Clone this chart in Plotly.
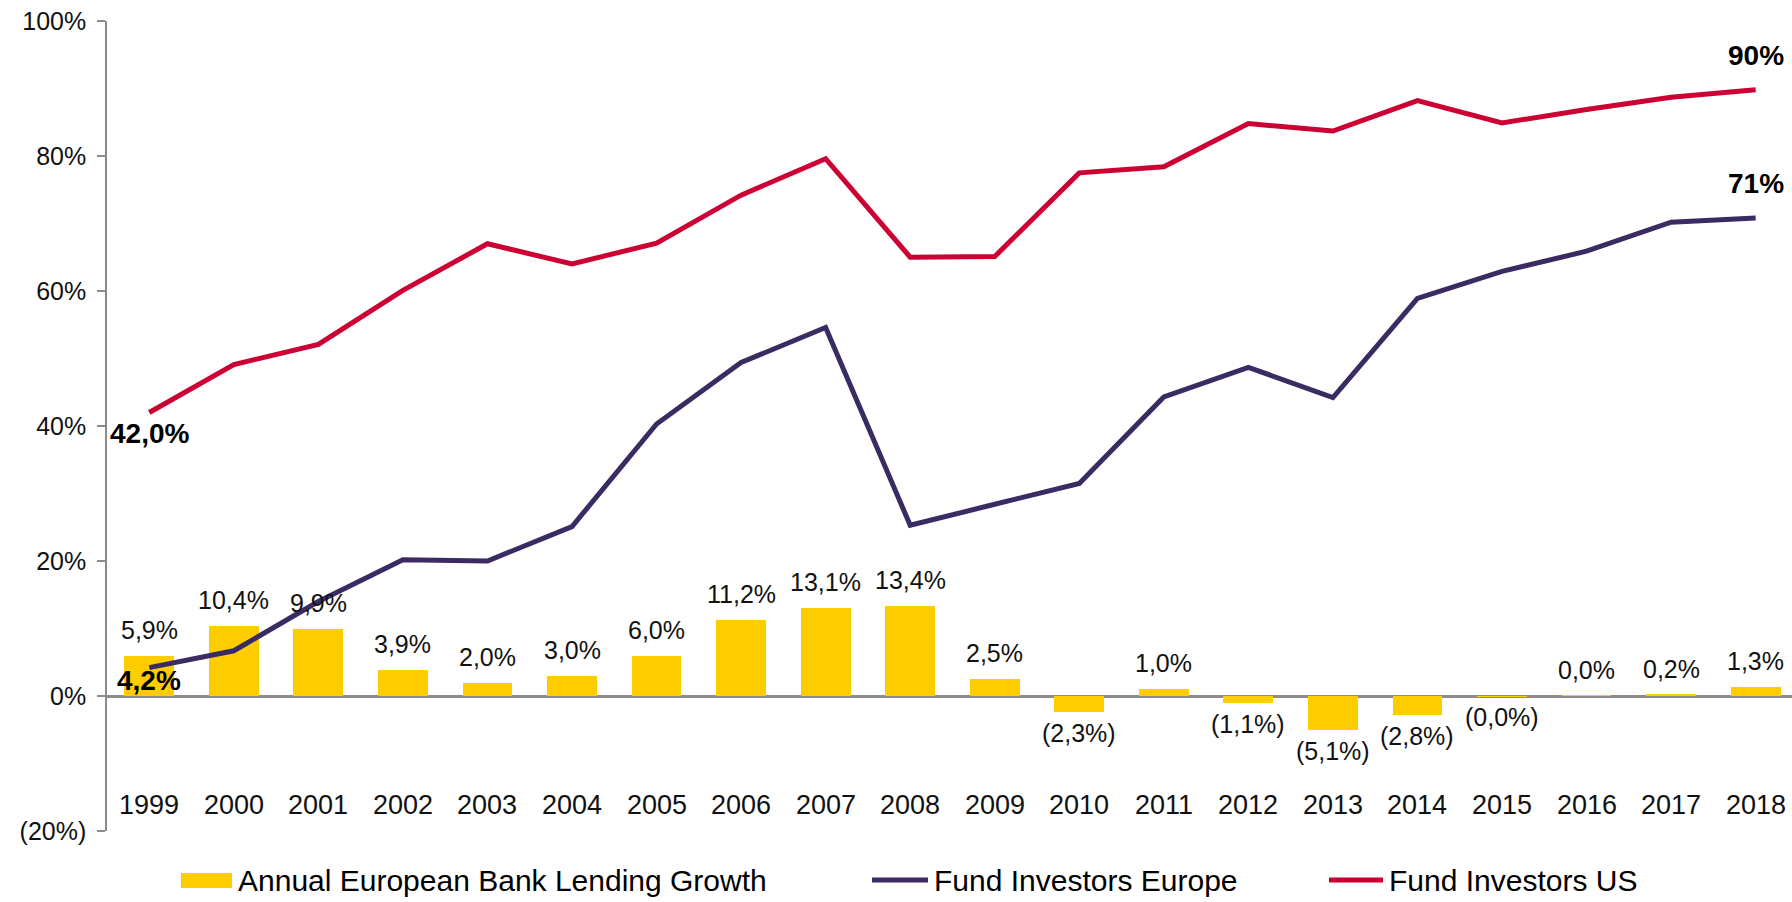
import plotly.graph_objects as go

years = list(range(1999, 2019))
lending_growth = [5.9, 10.4, 9.9, 3.9, 2.0, 3.0, 6.0, 11.2, 13.1, 13.4,
                  2.5, -2.3, 1.0, -1.1, -5.1, -2.8, -0.02, 0.02, 0.2, 1.3]
fund_europe = [4.2, 6.7, 14.0, 20.2, 20.0, 25.1, 40.3, 49.4, 54.6, 25.3,
               28.4, 31.5, 44.3, 48.7, 44.2, 58.9, 62.9, 65.9, 70.2, 70.8]
fund_us = [42.0, 49.1, 52.1, 60.1, 67.0, 64.0, 67.1, 74.2, 79.6, 65.0,
           65.1, 77.5, 78.4, 84.8, 83.7, 88.2, 84.9, 86.9, 88.7, 89.8]

y_ticks = [-20, 0, 20, 40, 60, 80, 100]
y_tick_labels = ["(20%)", "0%", "20%", "40%", "60%", "80%", "100%"]
year_labels = [str(y) for y in years]
series_names = ["Annual European Bank Lending Growth",
                "Fund Investors Europe", "Fund Investors US"]

# end-point call-outs: (series, index, text, vertical shift in px)
callouts = [
    (fund_us, 0, "42,0%", -21),
    (fund_europe, 0, "4,2%", -13),
    (fund_us, -1, "90%", 34),
    (fund_europe, -1, "71%", 35),
]

YELLOW = "#FFCC00"
NAVY = "#3A2B63"
RED = "#CC0033"
GREY = "#8C8C8C"
FONT = "Liberation Sans, Arial, sans-serif"

# plot box in page pixels, used to place the hand-made legend
PL, PR, PT, PB = 107, 1792, 21, 831


def px_x(p):
    return (p - PL) / (PR - PL)


def px_y(p):
    return (PB - p) / (PB - PT)


def pct_label(v):
    s = f"{abs(v):.1f}".replace(".", ",") + "%"
    return f"({s})" if v < 0 else s


fig = go.Figure()
fig.add_trace(go.Bar(
    x=years, y=lending_growth, name=series_names[0],
    marker=dict(color=YELLOW, line=dict(width=0)), width=0.59,
))
fig.add_trace(go.Scatter(
    x=years, y=fund_europe, name=series_names[1], mode="lines",
    line=dict(color=NAVY, width=5),
))
fig.add_trace(go.Scatter(
    x=years, y=fund_us, name=series_names[2], mode="lines",
    line=dict(color=RED, width=5),
))

annotations = []
for yr, v in zip(years, lending_growth):
    annotations.append(dict(
        x=yr, y=v, text=pct_label(v), showarrow=False, yanchor="middle",
        yshift=26 if v >= 0 else -21,
        font=dict(family=FONT, size=25, color="#111111"),
    ))
for yr, lab in zip(years, year_labels):
    annotations.append(dict(
        x=yr, y=-16.1, text=lab, showarrow=False, yanchor="middle",
        font=dict(family=FONT, size=27, color="#111111"),
    ))
for series, idx, txt, shift in callouts:
    annotations.append(dict(
        x=years[idx], y=series[idx], text=f"<b>{txt}</b>", showarrow=False,
        yanchor="middle", yshift=shift,
        font=dict(family=FONT, size=28, color="#000000"),
    ))

# legend drawn by hand so the swatches keep their wide shapes
legend_y = 880
shapes = [
    dict(type="rect", xref="paper", yref="paper",
         x0=px_x(181), x1=px_x(232), y0=px_y(legend_y + 8), y1=px_y(legend_y - 7),
         fillcolor=YELLOW, line=dict(width=0)),
    dict(type="line", xref="paper", yref="paper",
         x0=px_x(872), x1=px_x(928), y0=px_y(legend_y), y1=px_y(legend_y),
         line=dict(color=NAVY, width=5)),
    dict(type="line", xref="paper", yref="paper",
         x0=px_x(1329), x1=px_x(1383), y0=px_y(legend_y), y1=px_y(legend_y),
         line=dict(color=RED, width=5)),
]
for name, left in zip(series_names, [236, 932, 1387]):
    annotations.append(dict(
        xref="paper", yref="paper", x=px_x(left), y=px_y(legend_y),
        xanchor="left", yanchor="middle", text=name, showarrow=False,
        font=dict(family=FONT, size=30, color="#000000"),
    ))

fig.update_layout(
    width=1792, height=902,
    margin=dict(l=PL, r=1792 - PR, t=PT, b=902 - PB),
    plot_bgcolor="white", paper_bgcolor="white",
    font=dict(family=FONT, size=25, color="#111111"),
    bargap=0,
    annotations=annotations,
    shapes=shapes,
    showlegend=False,
)
fig.update_xaxes(
    range=[1998.5, 2018.43], showticklabels=False, ticks="",
    showline=False, showgrid=False, zeroline=False,
)
fig.update_yaxes(
    range=[-20, 100], tickvals=y_ticks, ticktext=y_tick_labels,
    showgrid=False, showline=True, linecolor=GREY, linewidth=1.5,
    ticks="outside", ticklen=8, tickcolor=GREY, tickwidth=1.5,
    ticklabelstandoff=6,
    zeroline=True, zerolinecolor=GREY, zerolinewidth=3,
    tickfont=dict(size=25, color="#111111"),
)

fig.write_html("out.html", config={"displayModeBar": False},
               post_script="document.body.style.margin='0';")
